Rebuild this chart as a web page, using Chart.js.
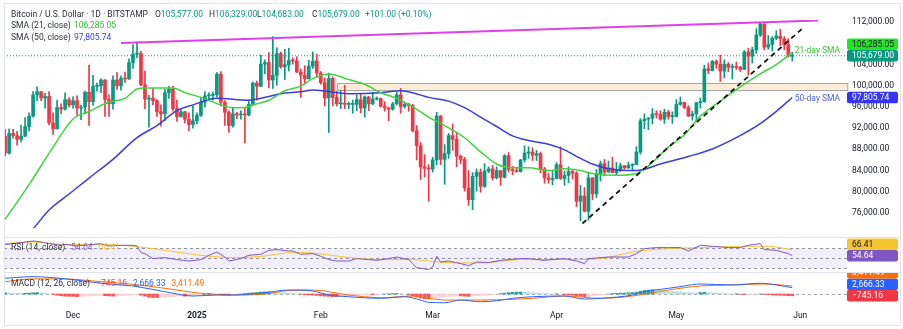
<!DOCTYPE html>
<html>
<head>
<meta charset="utf-8">
<title>Bitcoin / U.S. Dollar - 1D</title>
<script src="https://cdn.jsdelivr.net/npm/chart.js@4.4.1/dist/chart.umd.min.js"></script>
<style>
  body { margin: 0; background: #fff; }
  #wrap { position: relative; width: 903px; height: 329px; overflow: hidden; background: #fff; font-family: Roboto, sans-serif; }
  #wrap canvas { position: absolute; left: 0; }
  .frame { position: absolute; left: 4px; top: 3px; width: 897px; height: 323px; box-sizing: border-box; border: 1px solid #e0e3eb; pointer-events: none; z-index: 4; }
  .sep { position: absolute; left: 4px; width: 897px; height: 1px; background: #e0e3eb; z-index: 4; }
  .txt { position: absolute; font-size: 8.5px; line-height: 11px; height: 11px; white-space: pre; color: #2a2e39; z-index: 5; }
  .txt span.g { margin-left: 6px; }
</style>
</head>
<body>
<div id="wrap">
  <canvas id="price" width="903" height="238" style="top:0"></canvas>
  <canvas id="rsi" width="903" height="34" style="top:238px"></canvas>
  <canvas id="macd" width="903" height="56" style="top:273px"></canvas>
  <div class="sep" style="top:237px"></div>
  <div class="sep" style="top:272px"></div>
  <div class="frame"></div>

  <div class="txt" style="left:11px;top:9px">Bitcoin / U.S. Dollar · 1D · BITSTAMP</div>
  <div class="txt" style="left:155px;top:9px">O<span style="color:#089981">105,577.00</span></div>
  <div class="txt" style="left:209px;top:9px">H<span style="color:#089981">106,329.00</span></div>
  <div class="txt" style="left:257px;top:9px">L<span style="color:#089981">104,683.00</span></div>
  <div class="txt" style="left:312px;top:9px">C<span style="color:#089981">105,679.00</span></div>
  <div class="txt" style="left:365px;top:9px;color:#089981">+101.00 (+0.10%)</div>
  <div class="txt" style="left:11px;top:20px">SMA (21, close)</div>
  <div class="txt" style="left:74px;top:20px;color:#2fc12f">106,285.05</div>
  <div class="txt" style="left:11px;top:32px">SMA (50, close)</div>
  <div class="txt" style="left:74px;top:32px;color:#3c3cdc">97,805.74</div>

  <div class="txt" style="left:11px;top:242px">RSI (14, close)<span class="g" style="color:#7e57c2">54.64</span><span class="g" style="color:#f5c431">66.41</span></div>
  <div class="txt" style="left:11px;top:278px">MACD (12, 26, close)<span class="g" style="color:#f23645">−745.16</span><span class="g" style="color:#2962ff">2,666.33</span><span class="g" style="color:#ff6d00">3,411.49</span></div>
</div>
<script>
// day 0 = 14 Nov 2024, one candle per day up to 30 May 2025 (day 197)
// [open, high, low, close] in thousands of USD
const ohlcK = [
  // Nov 14 - Nov 30
  [90.5,91.8,86.7,87.3],[87.3,91.9,87.1,91.0],[91.0,91.8,90.1,90.6],[90.6,91.4,88.8,89.9],
  [89.9,92.6,89.4,90.5],[90.5,94.0,90.4,92.3],[92.3,94.9,91.5,94.3],[94.3,98.9,94.1,98.3],
  [98.3,99.8,97.2,98.9],[98.9,98.9,97.2,97.7],[97.7,98.6,95.8,98.0],[98.0,98.9,92.6,93.0],
  [93.0,94.9,90.8,91.9],[91.9,97.3,91.8,95.9],[95.9,96.6,94.7,95.6],[95.6,98.7,95.4,97.4],
  [97.4,97.8,96.0,96.4],
  // Dec
  [96.4,97.9,95.8,97.2],[97.2,98.1,94.4,95.8],[95.8,96.3,93.6,96.0],[96.0,99.0,94.7,98.8],
  [98.8,103.9,92.5,97.0],[97.0,102.0,96.3,99.9],[99.9,100.5,99.0,100.0],[100.0,101.3,98.7,101.1],
  [101.1,101.2,94.2,97.4],[97.4,98.3,94.2,96.6],[96.6,101.9,95.6,101.1],[101.1,102.5,99.3,100.0],
  [100.0,101.9,99.2,101.4],[101.4,102.6,100.6,101.3],[101.3,105.1,101.2,104.4],[104.4,107.8,103.3,106.0],
  [106.0,108.3,105.3,106.1],[106.1,106.5,100.0,100.2],[100.2,102.8,95.7,97.5],[97.5,98.2,92.2,97.7],
  [97.7,99.5,96.4,97.2],[97.2,97.4,94.2,95.1],[95.1,96.4,92.4,94.7],[94.7,99.4,93.4,98.7],
  [98.7,99.9,97.6,99.4],[99.4,99.9,95.2,95.7],[95.7,97.3,93.3,94.2],[94.2,95.5,94.1,95.1],
  [95.1,95.2,93.0,93.7],[93.7,94.9,91.5,92.7],[92.7,96.2,92.0,93.4],
  // Jan
  [93.4,94.9,92.8,94.4],[94.4,97.8,94.2,96.9],[96.9,98.9,96.0,98.1],[98.1,98.7,97.3,98.2],
  [98.2,98.8,97.3,98.3],[98.3,102.5,97.9,102.2],[102.2,102.7,96.2,96.9],[96.9,97.2,92.5,95.0],
  [95.0,95.3,91.2,92.5],[92.5,95.8,92.2,94.7],[94.7,95.0,93.8,94.5],[94.5,95.3,93.7,94.6],
  [94.6,95.9,89.2,94.5],[94.5,97.3,94.3,96.5],[96.5,100.7,96.5,100.5],[100.5,100.9,97.3,99.9],
  [99.9,105.8,99.9,104.1],[104.1,104.9,102.3,104.4],[104.4,106.3,99.6,101.1],[101.1,109.3,99.5,102.0],
  [102.0,107.2,100.1,106.1],[106.1,106.4,103.3,103.6],[103.6,106.9,101.2,104.0],[104.0,107.1,102.8,104.8],
  [104.8,105.3,104.1,104.7],[104.7,105.5,102.5,102.6],[102.6,103.2,97.8,102.0],[102.0,103.8,100.3,101.3],
  [101.3,104.8,101.3,103.7],[103.7,106.4,103.3,104.7],[104.7,106.0,101.6,102.4],
  // Feb
  [102.4,102.7,100.3,100.6],[100.6,101.5,96.2,97.7],[97.7,102.4,91.2,101.4],[101.4,101.7,96.2,97.8],
  [97.8,99.0,96.2,96.6],[96.6,99.2,95.7,96.6],[96.6,100.1,95.7,96.5],[96.5,96.9,95.7,96.5],
  [96.5,97.3,94.8,96.5],[96.5,98.3,95.3,97.4],[97.4,98.5,94.9,95.8],[95.8,98.1,94.1,97.9],
  [97.9,98.0,95.3,96.6],[96.6,98.8,96.4,97.5],[97.5,97.9,97.3,97.6],[97.6,97.7,96.0,96.1],
  [96.1,97.0,95.2,95.8],[95.8,96.0,93.4,95.6],[95.6,96.9,95.4,96.6],[96.6,98.8,96.4,98.3],
  [98.3,99.5,94.8,96.1],[96.1,96.9,95.8,96.5],[96.5,96.7,95.2,96.3],[96.3,96.5,91.3,91.5],
  [91.5,92.5,86.0,88.7],[88.7,89.3,82.3,84.7],[84.7,87.0,82.8,84.4],[84.4,85.1,78.2,84.3],
  // Mar
  [84.3,86.5,83.7,86.0],[86.0,95.0,85.1,94.3],[94.3,94.4,85.1,86.1],[86.1,88.9,81.4,87.2],
  [87.2,91.0,86.3,90.6],[90.6,92.8,87.8,89.9],[89.9,91.3,84.7,86.7],[86.7,86.9,85.3,86.1],
  [86.1,86.5,80.1,80.7],[80.7,84.0,77.4,78.5],[78.5,83.6,76.6,82.9],[82.9,84.3,80.1,83.7],
  [83.7,84.3,79.9,81.0],[81.0,85.3,80.8,83.9],[83.9,84.7,83.6,84.3],[84.3,85.0,82.2,82.6],
  [82.6,84.7,82.4,84.0],[84.0,84.0,81.2,82.7],[82.7,87.0,82.6,86.8],[86.8,87.4,83.7,84.2],
  [84.2,84.8,83.2,84.0],[84.0,84.5,83.7,83.8],[83.8,86.1,83.7,86.0],[86.0,88.7,85.6,87.3],
  [87.3,88.5,86.3,87.5],[87.5,88.3,85.9,86.9],[86.9,87.8,85.9,87.2],[87.2,87.5,83.6,84.3],
  [84.3,84.6,81.6,82.6],[82.6,83.5,81.6,82.3],[82.3,83.9,81.3,82.5],
  // Apr
  [82.5,85.5,82.4,85.1],[85.1,88.5,82.3,82.5],[82.5,83.9,81.2,83.1],[83.1,84.7,81.7,83.8],
  [83.8,84.2,82.4,83.5],[83.5,83.8,77.2,78.2],[78.2,81.2,74.5,79.2],[79.2,80.8,76.2,76.3],
  [76.3,83.5,74.6,82.6],[82.6,82.7,78.5,79.6],[79.6,84.2,78.9,83.4],[83.4,85.8,82.0,85.3],
  [85.3,86.1,83.0,83.7],[83.7,85.8,83.7,84.5],[84.5,86.5,83.6,83.6],[83.6,85.5,83.1,84.0],
  [84.0,85.4,83.8,84.9],[84.9,85.0,84.3,84.5],[84.5,85.6,84.4,85.0],[85.0,85.3,83.9,85.1],
  [85.1,88.5,85.1,87.5],[87.5,93.8,87.1,93.4],[93.4,94.7,91.9,93.7],[93.7,94.0,91.7,93.9],
  [93.9,95.7,92.8,94.7],[94.7,95.3,93.9,94.6],[94.6,95.3,93.5,93.7],[93.7,95.6,92.9,95.0],
  [95.0,95.4,93.7,94.2],[94.2,95.1,92.9,94.25],
  // May
  [94.2,97.4,94.1,96.5],[96.5,97.9,96.3,96.9],[96.9,96.9,95.7,95.9],[95.9,96.3,94.2,94.3],
  [94.3,95.2,93.5,94.7],[94.7,96.9,93.4,96.8],[96.8,97.7,95.8,97.0],[97.0,103.9,96.9,103.2],
  [103.2,104.3,102.3,102.9],[102.9,104.8,102.8,104.6],[104.6,104.9,103.3,104.1],[104.1,105.8,100.8,102.8],
  [102.8,104.9,101.5,104.1],[104.1,104.4,102.7,103.5],[103.5,104.1,101.3,103.7],[103.7,104.5,103.1,103.5],
  [103.5,103.7,102.7,103.1],[103.1,106.7,103.1,106.4],[106.4,107.1,102.0,105.6],[105.6,107.3,104.3,106.8],
  [106.8,110.8,106.1,109.6],[109.6,111.9,109.3,111.7],[111.7,111.7,106.8,107.3],[107.3,109.5,106.9,107.8],
  [107.8,109.3,106.6,109.0],[109.0,110.4,108.7,109.4],[109.4,110.7,107.6,108.9],[108.9,109.3,106.8,107.8],
  [107.8,108.9,105.4,105.6],[105.577,106.329,104.683,105.679]
];

// [day, value]
const sma21Pts = [[0,74770],[6,81330],[12,88420],[17,93740],[21,95160],[26,96930],[30,97640],[33,99410],
  [35,99590],[42,99590],[45,98700],[49,97820],[54,96400],[57,95870],[60,95900],[63,96600],[66,97280],
  [70,99060],[74,99940],[77,101360],[81,102250],[86,101180],[90,100300],[94,98700],[98,97640],[102,96040],
  [106,94090],[110,92500],[115,90190],[119,87530],[123,85230],[127,84520],[131,84520],[136,83990],[140,84340],
  [144,83990],[147,83450],[153,83100],[158,83450],[161,84870],[166,88420],[170,90720],[174,94270],[180,97640],
  [185,100300],[189,102250],[193,104020],[197,106285.05]];
const sma50Pts = [[3,70000],[7,73000],[11,76540],[16,79560],[21,82570],[27,86120],[33,90200],[38,92500],
  [43,95300],[47,96400],[53,97640],[61,97280],[66,97990],[69,98520],[74,98880],[77,99230],[86,98520],
  [94,98700],[99,99060],[102,98700],[106,97820],[111,97110],[115,95870],[119,94090],[123,92320],[127,90550],
  [131,89660],[136,88950],[140,87890],[144,86290],[147,85230],[151,84340],[158,83990],[164,85230],[171,86650],
  [177,88070],[183,90200],[189,92850],[193,95160],[197,97805.74]];

// drawn lines
const resistanceLine = [[29,108100],[203.5,112350]];
const supportLine = [[144.5,74000],[199.7,110940]];
const lastClose = 105679;
const zoneFrom = 83, zoneLow = 99250, zoneHigh = 100500;

// RSI (14) and its moving average
const rsiPts = [[0,76.8],[4,80.8],[7,84],[9,82],[11,78.8],[14,75.4],[15,77.4],[18,74],[20,75.4],[24,78.8],
  [26,74],[29,75.4],[32,75.4],[33,74],[34,61],[35,58.8],[37,48.8],[40,50.8],[43,46.8],[46,44],[49,46.8],
  [51,55.4],[53,62],[55,52],[56,44],[59,48.8],[61,55.4],[64,57.4],[66,65.4],[68,66.8],[71,64],[72,64],
  [74,57.4],[77,58.8],[79,53.4],[81,46.8],[83,44],[86,44],[88,48.8],[91,46.8],[93,45.4],[96,48.8],[98,52],
  [101,46.8],[102,38.8],[103,30.8],[106,26.8],[107,32],[108,53.4],[109,42],[111,44],[114,38.8],[116,34.8],
  [118,42],[121,40.8],[124,45.4],[126,46.8],[129,48.8],[131,48.8],[135,45.4],[137,46.8],[140,48.8],[143,44],
  [145,38.8],[146,48.8],[151,52],[156,52],[158,58.8],[160,68.8],[163,70.8],[166,70.8],[169,70.8],[171,64],
  [174,75.4],[177,73.4],[181,70.8],[184,70.8],[186,75.4],[189,78.8],[190,66.8],[193,65.4],[196,58.8],[197,54.64]];
const rsiMaPts = [[0,78.8],[7,82],[15,76.8],[24,76.8],[32,73.4],[40,65.4],[49,55.4],[57,50.8],[62,52],
  [66,55],[70,60],[74,61],[78,59],[86,51],[94,46.8],[102,46.8],[110,41],[119,40],[129,46.8],[141,46.8],
  [149,48.8],[157,62],[166,68.8],[174,70.8],[182,73.4],[191,73.4],[197,66.41]];
const rsiLevels = [70, 50, 30];

// MACD (12, 26)
const macdPts = [[0,6670],[7,7350],[15,6460],[24,4550],[32,3400],[40,980],[47,-850],[53,-425],[57,-425],
  [65,550],[71,1700],[77,1275],[81,-425],[86,-1150],[94,-1830],[100,-1150],[104,-2550],[106,-3530],
  [110,-3700],[114,-2550],[119,-3270],[123,-2850],[127,-1830],[132,-1150],[140,-850],[145,-2125],
  [149,-1830],[157,-425],[160,980],[166,2420],[170,3400],[174,4250],[182,3825],[189,4550],[193,3825],[197,2666.33]];
const signalPts = [[0,5230],[7,6400],[15,6375],[24,5230],[32,4120],[40,2420],[49,300],[57,-425],[65,0],
  [71,1500],[77,1700],[86,-425],[94,-1570],[102,-850],[106,-1830],[110,-2550],[119,-2550],[127,-2250],
  [132,-1830],[140,-850],[149,-1830],[157,-850],[166,1700],[174,3400],[182,3825],[190,4250],[197,3411.49]];
const macdHist = [
  500,450,400,350,300,350,400,500,600,550,300,100,
  -200,-500,-700,-900,-1000,-1000,-1100,-1000,-900,-800,-700,-600,-500,-700,-800,-900,-800,-700,-600,-500,
  -300,-200,-500,-900,-1300,-1500,-1500,-1400,-1300,-1200,-1100,-900,-800,-900,-800,-600,
  -300,-100,100,300,200,0,-200,-400,-400,-300,-200,0,200,
  400,500,600,800,900,900,800,700,600,500,400,200,100,-100,
  -300,-400,-500,-600,-800,-900,-1000,-1100,-1100,-1000,-900,-800,-700,
  -600,-500,-400,-300,-300,-200,-100,0,100,200,200,100,0,
  -400,-800,-1300,-1700,-2000,-2100,-1900,
  -1500,-1300,-1200,-1000,-900,-800,-800,-900,-1000,-800,-700,
  -600,-500,-400,-300,
  -100,200,400,600,700,800,800,700,600,500,400,300,200,
  100,0,100,0,-200,-400,-500,-700,-900,-1100,-1000,-800,-600,
  -400,-200,0,200,300,400,400,500,600,
  800,1200,1500,1700,1800,1700,1600,1500,1300,1200,1000,900,700,
  600,500,400,600,700,600,500,400,300,200,100,0,100,
  -100,-200,-150,-100,-50,50,-150,-300,-400,-500,-550,-600,-700,-745.16
];

// time axis
const monthTicks = [17, 48, 79, 107, 138, 168, 199];
const monthLabels = ['Dec', '2025', 'Feb', 'Mar', 'Apr', 'May', 'Jun'];
const priceTicks = [76000, 80000, 84000, 88000, 92000, 96000, 100000, 104000, 108000, 112000];

Chart.defaults.font.family = 'Roboto, sans-serif';
Chart.defaults.font.size = 8.5;
Chart.defaults.color = '#131722';
Chart.defaults.animation = false;
Chart.defaults.plugins.legend.display = false;
Chart.defaults.plugins.tooltip.enabled = false;

const X_MIN = -0.28, X_MAX = 210.7, AXIS_W = 53;
const UP = '#089981', DOWN = '#f23645';
const pad = { left: 4, right: 3, top: 0, bottom: 0 };
const pts = arr => arr.map(([x, y]) => ({ x, y }));
const money = v => v.toLocaleString('en-US', { minimumFractionDigits: 2, maximumFractionDigits: 2 });

function timeAxis(show) {
  return {
    type: 'linear', min: X_MIN, max: X_MAX, offset: false, display: show,
    grid: { display: false, drawTicks: false },
    border: { display: false },
    afterBuildTicks: s => { s.ticks = monthTicks.map(v => ({ value: v })); },
    afterFit: s => { s.height = show ? 22 : 0; },
    ticks: {
      autoSkip: false, maxRotation: 0, padding: 4,
      callback: v => monthLabels[monthTicks.indexOf(v)],
      font: c => ({ size: 8.5, weight: c.tick && c.tick.value === 48 ? 'bold' : 'normal' })
    }
  };
}

function valueAxis(min, max, ticks) {
  return {
    position: 'right', min, max,
    grid: { display: false, drawTicks: false },
    border: { display: false },
    afterFit: s => { s.width = AXIS_W; },
    afterBuildTicks: s => { if (ticks) s.ticks = ticks.map(v => ({ value: v })); },
    ticks: { display: !!ticks, padding: 5, callback: v => money(v) }
  };
}

function lineSet(data, color, extra) {
  return Object.assign({
    type: 'line', data: pts(data), borderColor: color, borderWidth: 1.3,
    pointRadius: 0, cubicInterpolationMode: 'monotone', order: 1
  }, extra || {});
}

// value tags on the right axis; later tags are pushed up when they would overlap
function tagPlugin(tags) {
  return {
    id: 'tags',
    afterDraw(chart) {
      const { ctx, chartArea, scales: { y } } = chart;
      const h = 11.5, placed = [];
      ctx.save();
      ctx.font = '8.5px Roboto, sans-serif';
      ctx.textBaseline = 'middle';
      tags.forEach(t => {
        let py = y.getPixelForValue(t.value), moved = true;
        while (moved) {
          moved = false;
          placed.forEach(p => { if (Math.abs(py - p) < h) { py = p - h; moved = true; } });
        }
        placed.push(py);
        ctx.fillStyle = t.bg;
        ctx.beginPath();
        ctx.roundRect(chartArea.right, py - h / 2, 51, h, 2);
        ctx.fill();
        ctx.fillStyle = t.fg;
        ctx.fillText(t.text, chartArea.right + 5, py + 0.5);
      });
      ctx.restore();
    }
  };
}

const priceDecor = {
  id: 'priceDecor',
  beforeDatasetsDraw(chart) {
    const { ctx, chartArea: a, scales: { x, y } } = chart;
    const x0 = x.getPixelForValue(zoneFrom), x1 = a.right;
    const y0 = y.getPixelForValue(zoneHigh), y1 = y.getPixelForValue(zoneLow);
    ctx.save();
    ctx.fillStyle = '#fcebd6';
    ctx.fillRect(x0, y0, x1 - x0, y1 - y0);
    ctx.strokeStyle = '#a5a5a5';
    ctx.lineWidth = 1;
    ctx.strokeRect(Math.round(x0) + 0.5, Math.round(y0) + 0.5, x1 - x0, Math.round(y1 - y0));
    ctx.restore();
  },
  afterDatasetsDraw(chart) {
    const { ctx, scales: { x, y } } = chart;
    ctx.save();
    ctx.font = '8.5px Roboto, sans-serif';
    ctx.textBaseline = 'middle';
    ctx.fillStyle = '#3cc43c';
    ctx.fillText('21-day SMA', x.getPixelForValue(197.6), y.getPixelForValue(106560));
    ctx.fillStyle = '#4a5fd8';
    ctx.fillText('50-day SMA', x.getPixelForValue(197.6), y.getPixelForValue(97460));
    ctx.restore();
  }
};

const candleColors = ohlcK.map(r => (r[3] >= r[0] ? UP : DOWN));

new Chart(document.getElementById('price'), {
  type: 'bar',
  data: {
    datasets: [
      { type: 'bar', data: ohlcK.map((r, i) => ({ x: i, y: [r[2] * 1000, r[1] * 1000] })),
        backgroundColor: candleColors, barThickness: 1, grouped: false, order: 6 },
      { type: 'bar', data: ohlcK.map((r, i) => ({ x: i, y: [r[0] * 1000, r[3] * 1000] })),
        backgroundColor: candleColors, barThickness: 3, grouped: false, minBarLength: 1, order: 5 },
      lineSet([[X_MIN, lastClose], [X_MAX, lastClose]], UP, { borderWidth: 1, borderDash: [1, 2], order: 7 }),
      lineSet(sma21Pts, '#3fd43f', { borderWidth: 1.5 }),
      lineSet(sma50Pts, '#3c3cdc', { borderWidth: 1.5 }),
      lineSet(resistanceLine, '#e040e8', { borderWidth: 2, order: 0 }),
      lineSet(supportLine, '#131313', { borderWidth: 1.8, borderDash: [5, 4], order: 0 })
    ]
  },
  options: {
    responsive: false,
    layout: { padding: { left: 4, right: 3, top: 4, bottom: 2 } },
    scales: { x: timeAxis(false), y: valueAxis(73163, 114305, priceTicks) }
  },
  plugins: [priceDecor, tagPlugin([
    { value: lastClose, text: '105,679.00', bg: UP, fg: '#fff' },
    { value: 106285.05, text: '106,285.05', bg: '#22e622', fg: '#131722' },
    { value: 97805.74, text: '97,805.74', bg: '#3535f5', fg: '#fff' }
  ])]
});

const rsiGuides = {
  id: 'rsiGuides',
  beforeDatasetsDraw(chart) {
    const { ctx, chartArea: a, scales: { y } } = chart;
    const top = y.getPixelForValue(rsiLevels[0]), bottom = y.getPixelForValue(rsiLevels[2]);
    ctx.save();
    ctx.fillStyle = 'rgba(126,87,194,0.1)';
    ctx.fillRect(a.left, top, a.right - a.left, bottom - top);
    ctx.strokeStyle = '#8f929b';
    ctx.lineWidth = 1;
    ctx.setLineDash([3, 3]);
    rsiLevels.forEach(l => {
      const py = Math.round(y.getPixelForValue(l)) + 0.5;
      ctx.beginPath(); ctx.moveTo(a.left, py); ctx.lineTo(a.right, py); ctx.stroke();
    });
    ctx.restore();
  }
};

new Chart(document.getElementById('rsi'), {
  type: 'line',
  data: {
    datasets: [
      lineSet(rsiMaPts, '#f5c431', { borderWidth: 1, order: 2 }),
      lineSet(rsiPts, '#7e57c2', { borderWidth: 1, cubicInterpolationMode: 'default', tension: 0 })
    ]
  },
  options: {
    responsive: false,
    layout: { padding: pad },
    scales: { x: timeAxis(false), y: valueAxis(22, 90, null) }
  },
  plugins: [rsiGuides, tagPlugin([
    { value: 54.64, text: '54.64', bg: '#7e57c2', fg: '#fff' },
    { value: 66.41, text: '66.41', bg: '#f5c431', fg: '#131722' }
  ])]
});

const histColors = macdHist.map((v, i) => {
  const prev = i ? macdHist[i - 1] : v;
  if (v >= 0) return v >= prev ? '#26a69a' : '#b2dfdb';
  return v <= prev ? '#ff5252' : '#ffcdd2';
});

const zeroLine = {
  id: 'zeroLine',
  beforeDatasetsDraw(chart) {
    const { ctx, chartArea: a, scales: { y } } = chart;
    const py = Math.round(y.getPixelForValue(0)) + 0.5;
    ctx.save();
    ctx.strokeStyle = '#a3a6af';
    ctx.setLineDash([3, 3]);
    ctx.beginPath(); ctx.moveTo(a.left, py); ctx.lineTo(a.right, py); ctx.stroke();
    ctx.restore();
  }
};

new Chart(document.getElementById('macd'), {
  type: 'bar',
  data: {
    datasets: [
      { type: 'bar', data: macdHist.map((v, i) => ({ x: i, y: v })), backgroundColor: histColors,
        barThickness: 3, grouped: false, order: 5 },
      lineSet(signalPts, '#ff6d00', { borderWidth: 1, order: 2 }),
      lineSet(macdPts, '#2962ff', { borderWidth: 1 })
    ]
  },
  options: {
    responsive: false,
    layout: { padding: pad },
    scales: { x: timeAxis(true), y: valueAxis(-5500, 8900, null) }
  },
  plugins: [zeroLine, tagPlugin([
    { value: -745.16, text: '−745.16', bg: '#f23645', fg: '#fff' },
    { value: 2666.33, text: '2,666.33', bg: '#2962ff', fg: '#fff' },
    { value: 3411.49, text: '3,411.49', bg: '#ff6d00', fg: '#fff' }
  ])]
});
</script>
</body>
</html>
